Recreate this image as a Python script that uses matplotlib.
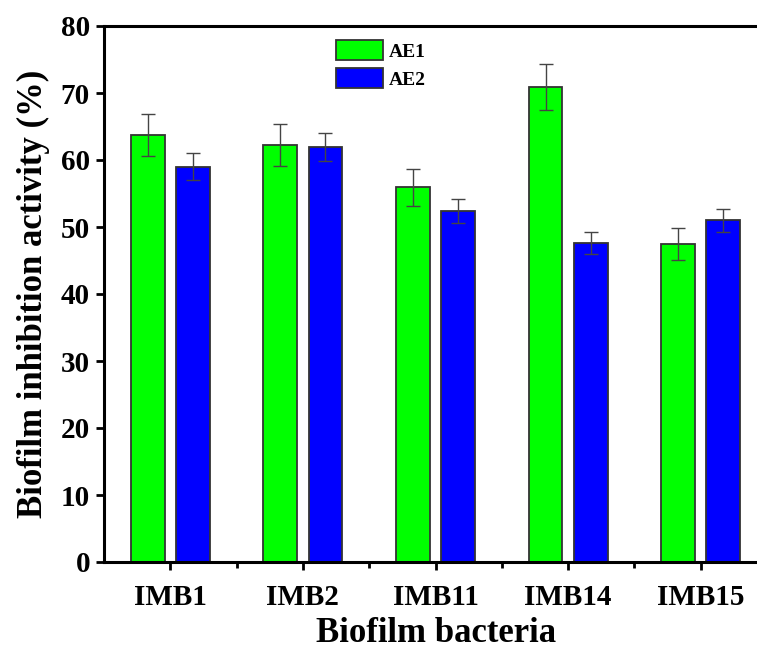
import matplotlib
matplotlib.use('Agg')
import matplotlib.pyplot as plt
import numpy as np
from matplotlib.ticker import MultipleLocator, FixedLocator

# data
bacteria = ['IMB1', 'IMB2', 'IMB11', 'IMB14', 'IMB15']
ae1 = [63.7, 62.2, 55.9, 70.9, 47.5]
ae1_err = [3.1, 3.1, 2.8, 3.5, 2.4]
ae2 = [59.0, 62.0, 52.4, 47.6, 51.0]
ae2_err = [2.0, 2.1, 1.8, 1.6, 1.7]

plt.rcParams['font.family'] = ['Liberation Serif', 'DejaVu Serif']
plt.rcParams['font.weight'] = 'bold'

fig = plt.figure(figsize=(7.57, 6.49), dpi=100)
ax = fig.add_axes([104 / 757, 87 / 649, 663 / 757, 536 / 649])

x = np.arange(len(bacteria))
w = 0.255
off = 0.17
err_kw = dict(ecolor='#444444', elinewidth=1.0, capsize=5, capthick=1.0)
ax.bar(x - off, ae1, w, yerr=ae1_err, color='#00ff00', edgecolor='#333333',
       linewidth=1.3, label='AE1', error_kw=err_kw)
ax.bar(x + off, ae2, w, yerr=ae2_err, color='#0000ff', edgecolor='#333333',
       linewidth=1.3, label='AE2', error_kw=err_kw)

ax.set_xlim(-0.5, 4.5)
ax.set_ylim(0, 80)
ax.set_xticks(x)
ax.set_xticklabels(bacteria)
ax.xaxis.set_minor_locator(FixedLocator(x[:-1] + 0.5))
ax.yaxis.set_major_locator(MultipleLocator(10))

ax.tick_params(axis='both', which='major', direction='out', length=6, width=2,
               labelsize=21, pad=4)
ax.tick_params(axis='x', which='minor', direction='out', length=4, width=2)
ax.tick_params(axis='x', which='major', pad=10)

for s in ['left', 'bottom', 'top', 'right']:
    ax.spines[s].set_linewidth(2.2)

ax.set_xlabel('Biofilm bacteria', fontsize=25, fontweight='bold')
ax.xaxis.label.set_va('baseline')
ax.xaxis.set_label_coords(436 / 757, 1 - 642 / 649, transform=fig.transFigure)
ax.set_ylabel('Biofilm inhibition activity (%)', fontsize=25, fontweight='bold', labelpad=8)

ax.legend(loc='upper left', bbox_to_anchor=(336 / 757, 1 - 40 / 649),
          bbox_transform=fig.transFigure, frameon=False, fontsize=14,
          handlelength=2.4, handleheight=1.2, labelspacing=0.4,
          handletextpad=0.3, borderpad=0, borderaxespad=0)

fig.savefig('out.png', dpi=100)
